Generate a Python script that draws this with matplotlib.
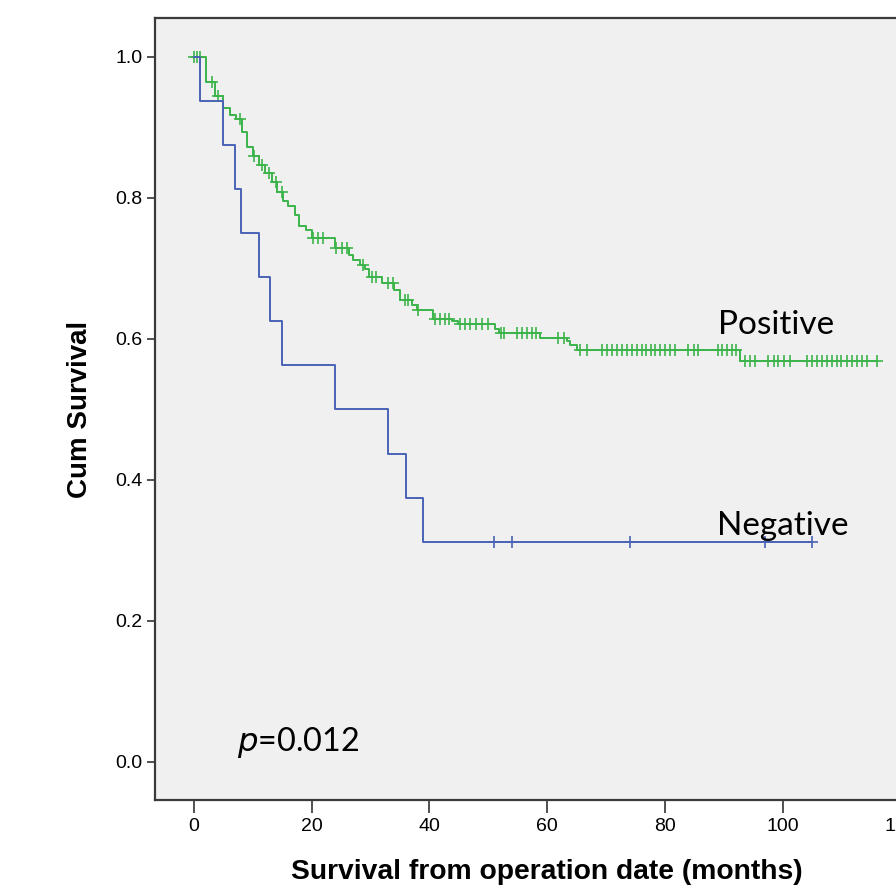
import numpy as np
import matplotlib
matplotlib.use('Agg')
import matplotlib.pyplot as plt

# Kaplan-Meier steps (months, cumulative survival after the step)
pos_t = [2.0, 3.6, 5.0, 6.2, 7.1, 8.1, 9.1, 10.1, 11.0, 12.1, 13.2, 14.1, 15.2, 16.0,
         17.1, 17.9, 19.0, 20.0, 23.9, 26.3, 27.1, 28.3, 29.1, 29.8, 31.9, 34.0, 35.0,
         37.0, 37.9, 40.6, 43.8, 44.9, 51.1, 51.8, 58.8, 63.3, 63.9, 65.0, 92.8]
pos_s = [0.964, 0.944, 0.927, 0.918, 0.912, 0.893, 0.873, 0.860, 0.847, 0.835, 0.823,
         0.809, 0.796, 0.788, 0.776, 0.760, 0.755, 0.743, 0.729, 0.719, 0.712, 0.705,
         0.699, 0.688, 0.679, 0.670, 0.655, 0.648, 0.641, 0.629, 0.626, 0.621, 0.614,
         0.608, 0.602, 0.597, 0.591, 0.585, 0.569]
pos_cens = [0.0, 0.5, 1.0, 3.0, 4.1, 7.8, 10.2, 11.6, 12.8, 13.9, 15.0, 20.3, 21.1, 21.9,
            24.2, 25.1, 26.0, 28.7, 30.3, 30.9, 33.0, 33.8, 35.9, 36.4, 38.1, 41.0, 41.8,
            42.6, 43.3, 45.2, 46.1, 46.9, 48.0, 48.9, 49.9, 52.1, 52.6, 54.9, 55.7, 56.6,
            57.4, 58.2, 61.9, 62.8, 65.6, 66.7, 69.3, 70.1, 71.0, 71.9, 72.7, 73.5, 74.4,
            75.2, 76.1, 76.8, 77.6, 78.4, 79.2, 80.1, 80.9, 81.7, 84.0, 84.9, 85.7, 89.0,
            89.7, 90.5, 91.4, 92.1, 93.7, 94.5, 95.4, 97.6, 98.5, 99.3, 100.2, 101.3, 104.2,
            105.0, 105.8, 106.7, 107.5, 108.4, 109.2, 110.0, 110.9, 111.8, 112.7, 113.5,
            114.3, 116.0]

neg_t = [1, 5, 7, 8, 11, 13, 15, 24, 33, 36, 39]
neg_s = [0.9375, 0.875, 0.8125, 0.75, 0.6875, 0.625, 0.5625, 0.5, 0.4375, 0.375, 0.3125]
neg_cens = [51, 54, 74, 97, 105]

x_ticks = [0, 20, 40, 60, 80, 100, 120]
y_ticks = [0.0, 0.2, 0.4, 0.6, 0.8, 1.0]

green = '#3cb44b'
blue = '#4a63b5'


def km_curve(times, surv, cens):
    t = np.concatenate([[0.0], times, [max(cens)]])
    s = np.concatenate([[1.0], surv, [surv[-1]]])
    idx = np.searchsorted(t[:-1], cens, side='right') - 1
    return t, s, np.array(cens), s[idx]


fig = plt.figure(figsize=(8.96, 8.89), dpi=100)
# axes runs past the right edge of the figure, as in the cropped original
ax = fig.add_axes([155 / 896, 89 / 889, 783 / 896, 782 / 889])
ax.set_facecolor('#f0f0f0')

for (tt, ss, cc), col in [((pos_t, pos_s, pos_cens), green), ((neg_t, neg_s, neg_cens), blue)]:
    t, s, cx, cy = km_curve(tt, ss, cc)
    ax.step(t, s, where='post', color=col, lw=1.4)
    ax.plot(cx, cy, ls='none', marker='+', ms=8, mew=1.2, color=col)

ax.set_xlim(-6.6, 126.4)
ax.set_ylim(-0.0539, 1.0553)
ax.set_xticks(x_ticks)
ax.set_yticks(y_ticks)
ax.set_xticklabels([str(v) for v in x_ticks], family='Liberation Sans', size=14)
ax.set_yticklabels(['%.1f' % v for v in y_ticks], family='Liberation Sans', size=14)
ax.tick_params(axis='x', direction='out', length=9, width=1.2, pad=4, color='#333333')
ax.tick_params(axis='y', direction='out', length=6, width=1.2, pad=3, color='#333333')
for sp in ax.spines.values():
    sp.set_color('#3a3a3a')
    sp.set_linewidth(1.6)

ax.set_xlabel('Survival from operation date (months)', family='Liberation Sans',
              weight='bold', size=20.3, va='center')
ax.set_ylabel('Cum Survival', family='Liberation Sans', weight='bold', size=20,
              va='center')
ax.xaxis.set_label_coords(0.5, -0.092)
ax.yaxis.set_label_coords(-0.0955, 0.5)

ax.text(89.1, 0.6066, 'Positive', family='Lato', size=24, va='baseline', ha='left')
ax.text(88.9, 0.322, 'Negative', family='Lato', size=24, va='baseline', ha='left')
ax.text(7.4, 0.016, r'$p$=0.012', family='Lato', size=23.3, va='baseline', ha='left')

plt.savefig('out.png', dpi=100)
